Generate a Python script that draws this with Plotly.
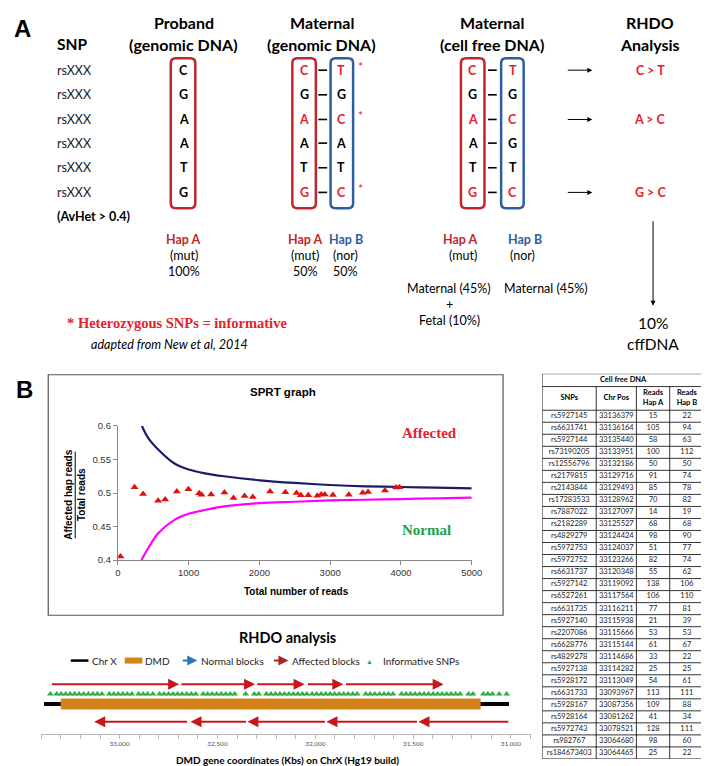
import plotly.graph_objects as go
import numpy as np

W, H = 709, 766
SANS = "Lato"
ARIAL = "Liberation Sans"
SERIF = "Liberation Serif"

RED_BOX = "#C0272D"
BLUE_BOX = "#2E5E9E"
RED_TXT = "#E8202A"
ARROW_RED = "#C8161D"
ORANGE = "#D4831B"
GREEN = "#2BB04A"

# ---------------- Panel A data ----------------
snp_ids = ["rsXXX"] * 6
proband_gt = ["C", "G", "A", "A", "T", "G"]
maternal_hapA = ["C", "G", "A", "A", "T", "G"]
maternal_hapB = ["T", "G", "C", "A", "T", "C"]
cff_hapA = ["C", "G", "A", "A", "T", "G"]
cff_hapB = ["T", "G", "C", "G", "T", "C"]
informative = [True, False, True, False, False, True]
rhdo_calls = ["C > T", "", "A > C", "", "", "G > C"]

# ---------------- Panel B table data ----------------
table_title = "Cell free DNA"
table_headers = ["SNPs", "Chr Pos", "Reads<br>Hap A", "Reads<br>Hap B"]
table_snps = ["rs5927145", "rs6631741", "rs5927144", "rs73190205", "rs12556796",
              "rs2179815", "rs2143844", "rs17283533", "rs7887022", "rs2182289",
              "rs4829279", "rs5972753", "rs5972752", "rs6631737", "rs5927142",
              "rs6527261", "rs6631735", "rs5927140", "rs2207086", "rs6628776",
              "rs4829278", "rs5927138", "rs5928172", "rs6631733", "rs5928167",
              "rs5928164", "rs5972743", "rs982767", "rs184673403"]
table_pos = ["33136379", "33136164", "33135440", "33133951", "33132186",
             "33129716", "33129493", "33128962", "33127097", "33125527",
             "33124424", "33124037", "33123266", "33120348", "33119092",
             "33117564", "33116211", "33115938", "33115666", "33115144",
             "33114686", "33114282", "33113049", "33093967", "33087356",
             "33081262", "33078521", "33064680", "33064465"]
reads_hapA = [15, 105, 58, 100, 50, 91, 85, 70, 14, 68, 98, 51, 82, 55, 138,
              106, 77, 21, 53, 61, 33, 25, 54, 113, 109, 41, 128, 98, 25]
reads_hapB = [22, 94, 63, 112, 50, 74, 78, 82, 19, 68, 90, 77, 74, 62, 106,
              110, 81, 39, 53, 67, 22, 25, 61, 111, 88, 34, 111, 60, 22]

# SPRT points: running totals of the table reads (x) and affected-hap fraction (y)
cum_total = np.cumsum(np.array(reads_hapA) + np.array(reads_hapB))
cum_ratio = np.cumsum(reads_hapA) / cum_total

# SPRT boundary curves
upper_reads = [340, 430, 570, 800, 1000, 1250, 1500, 2000, 2500, 3000, 3500, 4000, 4500, 5000]
upper_ratio = [0.600, 0.582, 0.565, 0.544, 0.535, 0.529, 0.525, 0.519, 0.515, 0.512, 0.510, 0.509, 0.508, 0.507]
lower_reads = [333, 430, 570, 800, 1000, 1250, 1500, 2000, 2500, 3000, 3500, 4000, 4500, 5000]
lower_ratio = [0.400, 0.418, 0.440, 0.460, 0.469, 0.475, 0.480, 0.485, 0.487, 0.489, 0.490, 0.491, 0.492, 0.493]
sprt_xticks = [0, 1000, 2000, 3000, 4000, 5000]
sprt_yticks = [0.4, 0.45, 0.5, 0.55, 0.6]
sprt_yticktext = ["0.4", "0.45", "0.5", "0.55", "0.6"]

# ---------------- RHDO data (kb on chrX) ----------------
chrx_span_kb = [33386, 31010]
dmd_span_kb = [33301, 31155]
affected_fwd_kb = [(33354, 32696), (32692, 32308), (32304, 32055), (32045, 31857), (31851, 31344)]
affected_rev_kb = [(31006, 31473), (31473, 31943), (31943, 32347), (32347, 32638), (32648, 33130)]
snp_pos_kb = [33354,
              33322, 33299, 33276, 33253, 33230, 33207, 33184, 33160, 33137, 33114, 33091,
              33053, 33030, 33007, 32984, 32961, 32938,
              32903, 32880, 32857, 32830,
              32796, 32773, 32750,
              32727, 32704, 32681, 32657, 32634, 32611,
              32573, 32550, 32527, 32504, 32481, 32458, 32435, 32412,
              32356, 32312, 32289,
              32250, 32227, 32204, 32181, 32158, 32135, 32112, 32089, 32066, 32043,
              32016, 31993, 31970, 31947, 31924, 31901, 31878, 31855, 31832, 31809, 31786,
              31742, 31719, 31696, 31672, 31649, 31626, 31603,
              31559, 31536, 31513, 31490, 31467, 31444, 31421, 31398, 31375, 31352, 31329,
              31306, 31283, 31260,
              31217, 31194,
              31141, 31118, 31095,
              31060, 31022]
rhdo_ticks_kb = list(range(30900, 33401, 100))
rhdo_labels_kb = [31000, 31500, 32000, 32500, 33000]

# ---------------- helpers (layout only) ----------------
ann, shp = [], []


def X(x):
    return x / W


def Y(y):
    return 1 - y / H


def text(x, y, s, size, color="black", family=SANS, xa="center", ya="middle", angle=0):
    ann.append(dict(x=X(x), y=Y(y), xref="paper", yref="paper", text=s, showarrow=False,
                    font=dict(size=size, color=color, family=family),
                    xanchor=xa, yanchor=ya, textangle=angle))


def line(x0, y0, x1, y1, color="black", width=1):
    shp.append(dict(type="line", xref="paper", yref="paper", x0=X(x0), y0=Y(y0),
                    x1=X(x1), y1=Y(y1), line=dict(color=color, width=width)))


def rbox(x0, y0, x1, y1, color, r=5, width=2.5):
    p = (f"M {X(x0 + r)},{Y(y0)} L {X(x1 - r)},{Y(y0)} Q {X(x1)},{Y(y0)} {X(x1)},{Y(y0 + r)} "
         f"L {X(x1)},{Y(y1 - r)} Q {X(x1)},{Y(y1)} {X(x1 - r)},{Y(y1)} "
         f"L {X(x0 + r)},{Y(y1)} Q {X(x0)},{Y(y1)} {X(x0)},{Y(y1 - r)} "
         f"L {X(x0)},{Y(y0 + r)} Q {X(x0)},{Y(y0)} {X(x0 + r)},{Y(y0)} Z")
    shp.append(dict(type="path", xref="paper", yref="paper", path=p,
                    line=dict(color=color, width=width)))


def parrow(x_head, y_head, dx, dy, color="black", width=1, head=2, size=1):
    ann.append(dict(x=X(x_head), y=Y(y_head), xref="paper", yref="paper", text="",
                    showarrow=True, ax=dx, ay=dy, arrowcolor=color, arrowwidth=width,
                    arrowhead=head, arrowsize=size, standoff=0))


# ================= Panel A =================
text(1, 15, "<b>A</b>", 24, family=ARIAL, xa="left")
text(45, 30, "<b>SNP</b>", 15.5, xa="left")
for cx, l1, l2 in [(176, "Proband", "(genomic DNA)"), (317, "Maternal", "(genomic DNA)"),
                   (491, "Maternal", "(cell free DNA)"), (652, "RHDO", "Analysis")]:
    text(cx, 9, f"<b>{l1}</b>", 16)
    text(cx, 31, f"<b>{l2}</b>", 16)

row_y = [57, 82, 107, 131, 156, 181]
for i, y in enumerate(row_y):
    col = RED_TXT if informative[i] else "black"
    text(45, y, snp_ids[i], 12.5, color="#222", xa="left")
    text(176, y, f"<b>{proband_gt[i]}</b>", 12.5)
    text(299, y, f"<b>{maternal_hapA[i]}</b>", 12.5, color=col)
    text(337, y, f"<b>{maternal_hapB[i]}</b>", 12.5, color=col)
    line(313.5, y, 322.5, y, width=1.6)
    text(471, y, f"<b>{cff_hapA[i]}</b>", 12.5, color=col)
    text(512, y, f"<b>{cff_hapB[i]}</b>", 12.5, color=col)
    line(486.5, y, 495.5, y, width=1.6)
    if informative[i]:
        text(357, y - 4, "*", 12, color=RED_TXT)
    if rhdo_calls[i]:
        parrow(593, y, -26, 0, width=1, head=2, size=1)
        text(652, y, f"<b>{rhdo_calls[i]}</b>", 12.5, color=RED_TXT)

rbox(163, 45, 188, 197, RED_BOX)
rbox(287, 45, 311, 197, RED_BOX)
rbox(326, 45, 349, 197, BLUE_BOX)
rbox(459, 45, 483, 197, RED_BOX)
rbox(500, 45, 523, 197, BLUE_BOX)

text(45, 205, "<b>(AvHet > 0.4)</b>", 12.5, xa="left")
text(176, 229, "<b>Hap A</b>", 12.5, RED_BOX)
text(176, 245, "(mut)", 12.5)
text(176, 261, "100%", 12.5)
text(300, 229, "<b>Hap A</b>", 12.5, RED_BOX)
text(342, 229, "<b>Hap B</b>", 12.5, BLUE_BOX)
text(300, 245, "(mut)", 12.5)
text(341, 245, "(nor)", 12.5)
text(300, 261, "50%", 12.5)
text(341, 261, "50%", 12.5)
text(459, 229, "<b>Hap A</b>", 12.5, RED_BOX)
text(524, 229, "<b>Hap B</b>", 12.5, BLUE_BOX)
text(461, 245, "(mut)", 12.5)
text(522, 245, "(nor)", 12.5)
text(447, 278, "Maternal (45%)", 12.5)
text(447, 295, "+", 12.5)
text(447, 311, "Fetal (10%)", 12.5)
text(546, 278, "Maternal (45%)", 12.5)
parrow(655, 296, 0, -86, width=1, head=2, size=1)
text(655, 313, "10%", 15.5)
text(655, 335, "cffDNA", 15.5)
text(55, 314, "<b>* Heterozygous SNPs = informative</b>", 14.5, RED_TXT, SERIF, xa="left")
text(80, 335, "<i>adapted from New et al, 2014</i>", 12.5, xa="left")

# ================= Panel B : SPRT =================
text(3, 381, "<b>B</b>", 24, family=ARIAL, xa="left")
shp.append(dict(type="rect", xref="paper", yref="paper", x0=X(38), x1=X(502), y0=Y(366), y1=Y(610),
                line=dict(color="#555", width=1.2)))
text(277, 383, "<b>SPRT graph</b>", 11.5, family=ARIAL)
text(427, 425, "<b>Affected</b>", 15, RED_TXT, SERIF)
text(424, 524, "<b>Normal</b>", 15, "#22A04B", SERIF)
text(291, 586, "<b>Total number of reads</b>", 10, family=ARIAL)
text(59, 488, "<b>Affected hap reads</b>", 10, family=ARIAL, angle=-90)
text(72.5, 488, "<b>Total reads</b>", 10, family=ARIAL, angle=-90)
line(65.5, 444, 65.5, 532, width=1)

# ================= RHDO =================
text(282, 633, "<b>RHDO analysis</b>", 14.5)
LY = 656
line(61, LY, 79, LY, "black", 2.5)
text(81, LY, "Chr X", 10, "#222", xa="left")
line(116, LY, 134, LY, ORANGE, 6)
text(135, LY, "DMD", 10, "#222", xa="left")
parrow(190, LY, -16, 0, "#2E75B6", 2, 2, 1)
text(192, LY, "Normal blocks", 10, "#222", xa="left")
parrow(283, LY, -16, 0, "#A8282A", 2, 2, 1)
text(285, LY, "Affected blocks", 10, "#222", xa="left")
text(366, LY, "▲", 7, GREEN)
text(377, LY, "Informative SNPs", 10, "#222", xa="left")
text(282, 757, "<b>DMD gene coordinates (Kbs) on ChrX (Hg19 build)</b>", 10)

TOP_LEVEL, SNP_LEVEL, CHR_LEVEL, BOT_LEVEL = 50, 40, 30, 12
for tail, head in affected_fwd_kb:
    ann.append(dict(x=head, y=TOP_LEVEL, ax=tail, ay=TOP_LEVEL, xref="x2", yref="y2",
                    axref="x2", ayref="y2", text="", showarrow=True, arrowhead=2,
                    arrowsize=1.1, arrowwidth=2, arrowcolor=ARROW_RED, standoff=0))
for tail, head in affected_rev_kb:
    ann.append(dict(x=head, y=BOT_LEVEL, ax=tail, ay=BOT_LEVEL, xref="x2", yref="y2",
                    axref="x2", ayref="y2", text="", showarrow=True, arrowhead=2,
                    arrowsize=1.1, arrowwidth=2, arrowcolor=ARROW_RED, standoff=0))

# ================= Table (drawn on its own hidden axes x3/y3) =================
col_w = [55, 41, 34, 35]                       # column widths (px)
col_edges = np.concatenate([[0], np.cumsum(col_w)])
col_mid = (col_edges[:-1] + col_edges[1:]) / 2
ROW_H = 12.2
HDR_H = 24 / ROW_H                             # header height in row units
TTL_H = 13 / ROW_H                             # title-row height in row units
n_rows = len(table_snps)
y_hdr_top = -0.5 - HDR_H
y_ttl_top = y_hdr_top - TTL_H
y_bottom = n_rows - 0.5
TBL_TOP_PX = 365
TBL_BOT_PX = TBL_TOP_PX + 13 + 24 + n_rows * ROW_H


def tline(x0, y0, x1, y1):
    shp.append(dict(type="line", xref="x3", yref="y3", x0=x0, y0=y0, x1=x1, y1=y1,
                    line=dict(color="black", width=0.8)))


# horizontal lines
tline(0, y_ttl_top, col_edges[-1], y_ttl_top)
tline(0, y_hdr_top, col_edges[-1], y_hdr_top)
for k in range(n_rows + 1):
    tline(0, k - 0.5, col_edges[-1], k - 0.5)
# vertical lines
tline(0, y_ttl_top, 0, y_bottom)
tline(col_edges[-1], y_ttl_top, col_edges[-1], y_bottom)
for e in col_edges[1:-1]:
    tline(e, y_hdr_top, e, y_bottom)

fig = go.Figure()

# SPRT traces
fig.add_trace(go.Scatter(x=upper_reads, y=upper_ratio, mode="lines",
                         line=dict(color="#1B1B6B", width=2.2, shape="spline"),
                         xaxis="x", yaxis="y", hoverinfo="skip"))
fig.add_trace(go.Scatter(x=lower_reads, y=lower_ratio, mode="lines",
                         line=dict(color="#FF00FF", width=2.2, shape="spline"),
                         xaxis="x", yaxis="y", hoverinfo="skip"))
fig.add_trace(go.Scatter(x=cum_total, y=cum_ratio, mode="markers",
                         marker=dict(symbol="triangle-up", size=7, color="#E01010"),
                         xaxis="x", yaxis="y", cliponaxis=False))

# RHDO traces
fig.add_trace(go.Scatter(x=chrx_span_kb, y=[CHR_LEVEL] * 2, mode="lines",
                         line=dict(color="black", width=4), xaxis="x2", yaxis="y2"))
fig.add_trace(go.Scatter(x=dmd_span_kb, y=[CHR_LEVEL] * 2, mode="lines",
                         line=dict(color=ORANGE, width=11), xaxis="x2", yaxis="y2"))
fig.add_trace(go.Scatter(x=snp_pos_kb, y=[SNP_LEVEL] * len(snp_pos_kb), mode="markers",
                         marker=dict(symbol="triangle-up", size=6, color=GREEN),
                         xaxis="x2", yaxis="y2"))

# table text
tfont = dict(size=7.5, family=SANS, color="#222")
hfont = dict(size=7.5, family=SANS, color="black")
fig.add_trace(go.Scatter(x=[col_edges[-1] / 2], y=[(y_ttl_top + y_hdr_top) / 2],
                         text=[f"<b>{table_title}</b>"], mode="text", textfont=hfont,
                         xaxis="x3", yaxis="y3", hoverinfo="skip"))
fig.add_trace(go.Scatter(x=list(col_mid), y=[(y_hdr_top - 0.5) / 2] * 4,
                         text=[f"<b>{h}</b>" for h in table_headers], mode="text",
                         textfont=hfont, xaxis="x3", yaxis="y3", hoverinfo="skip"))
for j, colvals in enumerate([table_snps, table_pos, reads_hapA, reads_hapB]):
    fig.add_trace(go.Scatter(x=[col_mid[j]] * n_rows, y=list(range(n_rows)),
                             text=[str(v) for v in colvals], mode="text", textfont=tfont,
                             xaxis="x3", yaxis="y3", hoverinfo="skip"))

fig.update_layout(
    width=W, height=H, autosize=False,
    margin=dict(l=0, r=0, t=0, b=0),
    paper_bgcolor="white", plot_bgcolor="white",
    showlegend=False,
    annotations=ann, shapes=shp,
    xaxis=dict(domain=[X(109), X(470)], range=[0, 5000], anchor="y",
               tickvals=sprt_xticks, showline=True, linecolor="#888", linewidth=1,
               ticks="outside", ticklen=4, tickcolor="#888", showgrid=False, zeroline=False,
               tickfont=dict(size=9.5, family=ARIAL, color="#333")),
    yaxis=dict(domain=[Y(554), Y(418)], range=[0.4, 0.6], anchor="x",
               tickvals=sprt_yticks, ticktext=sprt_yticktext, showline=True, linecolor="#888",
               linewidth=1, ticks="outside", ticklen=4, tickcolor="#888", showgrid=False,
               zeroline=False, tickfont=dict(size=9.5, family=ARIAL, color="#333")),
    xaxis2=dict(domain=[X(31), X(530)], range=[33400, 30900], anchor="y2",
                tickvals=rhdo_ticks_kb,
                ticktext=[f"{v:,}" if v in rhdo_labels_kb else "" for v in rhdo_ticks_kb],
                showline=True, linecolor="#bbb", linewidth=1, ticks="outside", ticklen=4,
                tickcolor="#bbb", showgrid=False, zeroline=False,
                tickfont=dict(size=6.5, family=SANS, color="#555")),
    yaxis2=dict(domain=[Y(730), Y(666)], range=[0, 64], anchor="x2", visible=False),
    xaxis3=dict(domain=[X(542), X(542 + col_edges[-1])], range=[0, col_edges[-1]],
                anchor="y3", visible=False),
    yaxis3=dict(domain=[Y(TBL_BOT_PX), Y(TBL_TOP_PX)], range=[y_bottom, y_ttl_top],
                anchor="x3", visible=False),
)

fig.write_html("out.html")
